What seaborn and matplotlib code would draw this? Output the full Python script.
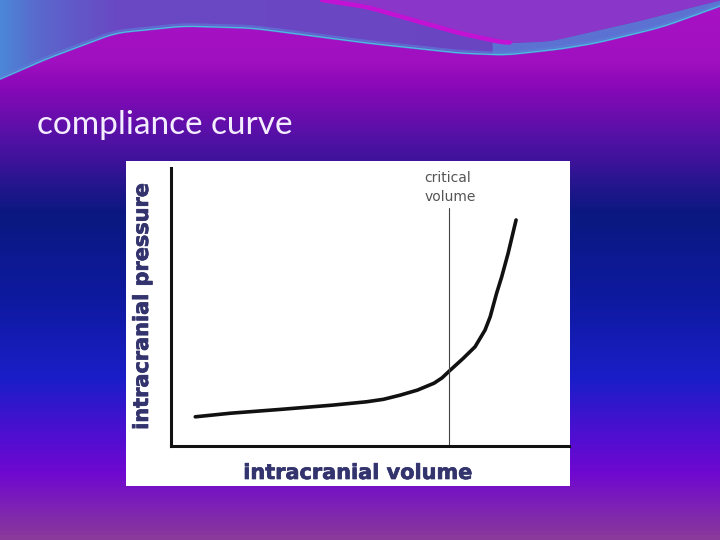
import numpy as np
import pandas as pd
import matplotlib
matplotlib.use("Agg")
import matplotlib.pyplot as plt
import matplotlib.patheffects as pe
from matplotlib.colors import LinearSegmentedColormap
from matplotlib.patches import Rectangle, Polygon
import seaborn as sns

# curve (arbitrary units, 0-10 on both axes)
volume = [0.61, 1.50, 2.78, 4.06, 4.91, 5.34, 5.76, 6.19, 6.61, 6.81, 7.01,
          7.34, 7.64, 7.89, 8.02, 8.18, 8.31, 8.47, 8.67]
pressure = [1.05, 1.18, 1.32, 1.47, 1.59, 1.68, 1.83, 2.01, 2.26, 2.45, 2.72,
            3.15, 3.57, 4.17, 4.65, 5.49, 6.09, 6.93, 8.13]
critical_volume = 6.98
critical_top = 8.56

title = "compliance curve"
xlabel = "intracranial volume"
ylabel = "intracranial pressure"
note = "critical\nvolume"

df = pd.DataFrame({"volume": volume, "pressure": pressure})

sns.set_style("white")
fig = plt.figure(figsize=(7.2, 5.4), dpi=100)

# slide background
bg = fig.add_axes([0, 0, 1, 1], zorder=0)
bg.set_xlim(0, 720)
bg.set_ylim(540, 0)
bg.axis("off")
stops = [(0, "#a812c4"), (60 / 540, "#a010c0"), (85 / 540, "#8a08b8"),
         (130 / 540, "#5a10a8"), (213 / 540, "#0a1880"), (300 / 540, "#0e1aa0"),
         (380 / 540, "#1a1ec8"), (430 / 540, "#4a10d0"), (475 / 540, "#7008d0"),
         (1, "#8a3a9a")]
cmap = LinearSegmentedColormap.from_list("slide", stops)
grad = np.linspace(0, 1, 540).reshape(-1, 1)
bg.imshow(grad, cmap=cmap, aspect="auto", extent=[0, 720, 540, 0])

# decorative wave at the top
ex = [0, 46, 115, 183, 252, 367, 459, 505, 560, 596, 642, 665, 720]
ey = [78, 58, 32, 25, 27, 42, 52, 54, 48, 42, 31, 25, 5]
xs = np.linspace(0, 720, 240)
ys = np.convolve(np.interp(xs, ex, ey), np.ones(9) / 9, mode="same")
ys[:5] = np.interp(xs[:5], ex, ey)
ys[-5:] = np.interp(xs[-5:], ex, ey)

top = np.linspace(0, 1, 300).reshape(1, -1)
tcmap = LinearSegmentedColormap.from_list(
    "top", [(0, "#4c86d8"), (0.05, "#5a68cc"), (0.16, "#6a48c4"), (1, "#6a44c2")])
im = bg.imshow(top, cmap=tcmap, aspect="auto", extent=[0, 720, 100, 0])
poly = Polygon(np.column_stack([np.r_[xs, 720, 0], np.r_[ys, 0, 0]]), closed=True,
               transform=bg.transData, facecolor="none", edgecolor="none")
bg.add_patch(poly)
im.set_clip_path(poly)

# upper swoosh
sx = [322, 367, 413, 459, 505, 550, 642, 700, 720]
sy = [0, 7, 20, 33, 43, 41, 20, 5, 0]
s_x = np.linspace(322, 720, 160)
s_y = np.interp(s_x, sx, sy)
s_y = np.convolve(s_y, np.ones(9) / 9, mode="same")
s_y[:5] = np.interp(s_x[:5], sx, sy)
s_y[-5:] = np.interp(s_x[-5:], sx, sy)
bg.fill_between(s_x, -1, s_y, color="#8a36c8", lw=0)
right = s_x >= 490
bg.fill_between(s_x[right], s_y[right], np.interp(s_x[right], xs, ys),
                color="#5a78d4", lw=0, alpha=0.9)
left = s_x <= 512
bg.plot(s_x[left], s_y[left], color="#c412d4", lw=3.2, solid_capstyle="round")
bg.plot(xs, ys, color="#5a80d8", lw=3, alpha=0.6)
bg.plot(xs, ys + 1, color="#48c0e0", lw=0.9)

fig.text(37 / 720, 1 - 125 / 540, title, color="#f4ecff", fontsize=24,
         family=["Lato", "DejaVu Sans"], va="center", ha="left", zorder=5)

# white panel behind the chart
fig.patches.append(Rectangle((126 / 720, 1 - 486 / 540), 444 / 720, 325 / 540,
                             transform=fig.transFigure, facecolor="white",
                             edgecolor="none", zorder=1))

ax = fig.add_axes([171 / 720, 1 - 446 / 540, 398 / 720, 278 / 540], zorder=2)
ax.set_facecolor("white")
sns.lineplot(data=df, x="volume", y="pressure", ax=ax, color="#111111", lw=2.6)
ax.plot([critical_volume, critical_volume], [0, critical_top], color="#444444", lw=0.8)
ax.text(6.36, 9.9, note, color="#555555", fontsize=10, va="top", ha="left",
        linespacing=1.45)
ax.set_xlim(0, 10)
ax.set_ylim(0, 10)
ax.set_xticks([])
ax.set_yticks([])
for s in ["top", "right"]:
    ax.spines[s].set_visible(False)
for s in ["left", "bottom"]:
    ax.spines[s].set_color("#111111")
    ax.spines[s].set_linewidth(2.2)
heavy = [pe.withStroke(linewidth=0.5, foreground="#33336e")]
ax.set_xlabel(xlabel, fontsize=15, fontweight="heavy", color="#33336e",
              path_effects=heavy)
ax.set_ylabel(ylabel, fontsize=15, fontweight="heavy", color="#33336e",
              path_effects=heavy)
ax.xaxis.set_label_coords((358 - 171) / 398, -(473 - 446) / 278, transform=ax.transAxes)
ax.yaxis.set_label_coords(-(171 - 142) / 398, (446 - 306) / 278, transform=ax.transAxes)
ax.xaxis.label.set_va("center")
ax.yaxis.label.set_va("center")

fig.savefig("out.png", dpi=100)
